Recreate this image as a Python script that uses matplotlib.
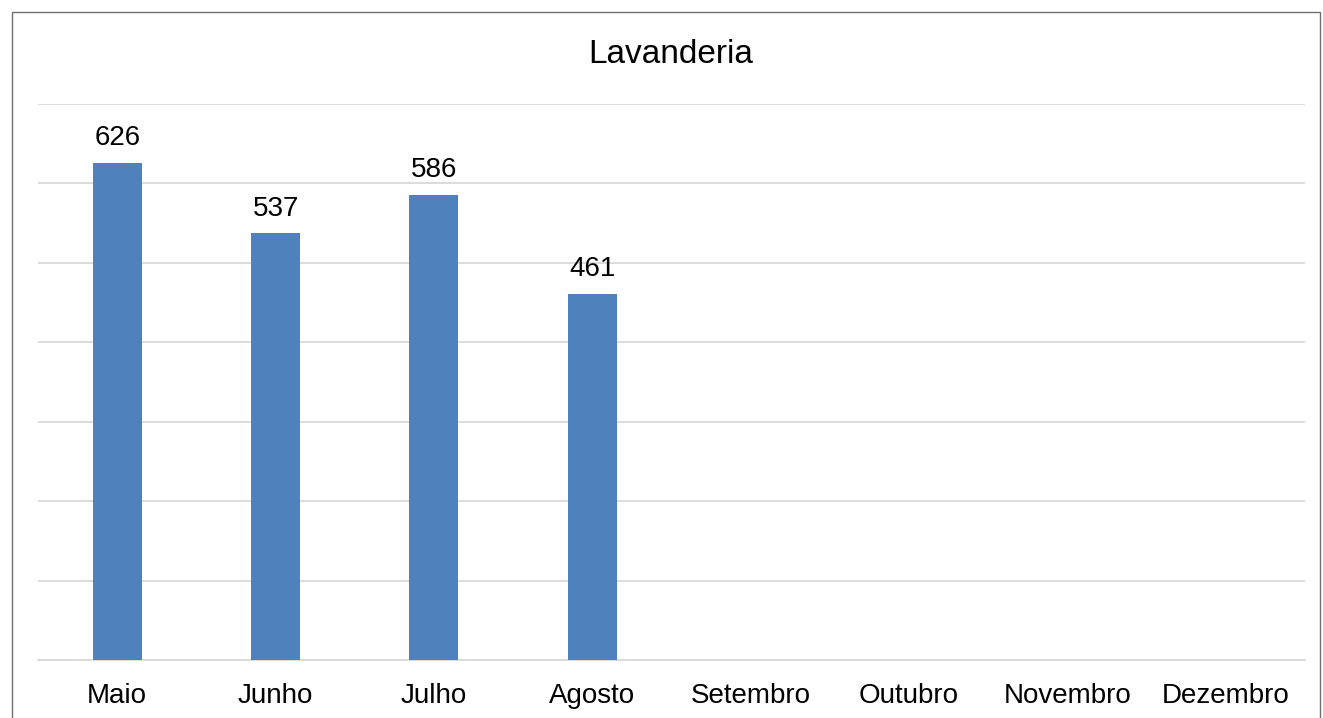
import matplotlib
matplotlib.use("Agg")
import matplotlib.pyplot as plt
from matplotlib.patches import Rectangle

categories = ["Maio", "Junho", "Julho", "Agosto", "Setembro", "Outubro", "Novembro", "Dezembro"]
values = [626, 537, 586, 461, None, None, None, None]
title = "Lavanderia"

plt.rcParams['font.family'] = ['Liberation Sans', 'DejaVu Sans']

W, H = 1323, 718
fig = plt.figure(figsize=(W / 100, H / 100), dpi=100)
ax = fig.add_axes([38 / W, 1 - 660 / H, (1305 - 38) / W, (660 - 104) / H])

xs = list(range(len(categories)))
bx = [x for x, v in zip(xs, values) if v is not None]
bv = [v for v in values if v is not None]
bars = ax.bar(bx, bv, width=0.31, color="#4F81BD", zorder=3)
for x, v in zip(bx, bv):
    ax.annotate(str(v), (x, v), xytext=(0, 8.5), textcoords="offset points",
                ha="center", va="bottom", fontsize=20, color="#000000")

ax.set_xlim(-0.5, len(categories) - 0.5)
ax.set_ylim(0, 700)
ax.set_yticks(range(0, 701, 100))
ax.yaxis.grid(True, color="#D9D9D9", linewidth=1.3, zorder=0)
ax.tick_params(axis="y", left=False, labelleft=False)
ax.set_xticks(xs)
ax.set_xticklabels(categories, fontsize=20)
ax.tick_params(axis="x", bottom=False, pad=13)
for s in ["top", "right", "left"]:
    ax.spines[s].set_visible(False)
ax.spines["bottom"].set_color("#D9D9D9")
ax.spines["bottom"].set_linewidth(1.3)

fig.text(671 / W, 1 - 54.5 / H, title, ha="center", va="center", fontsize=24, color="#000000")

fig.patches.append(Rectangle((12 / W, -0.05), (1320 - 12) / W, 1 - 12 / H + 0.05,
                             transform=fig.transFigure, fill=False,
                             edgecolor="#6F6F6F", linewidth=1))

fig.savefig("out.png", dpi=100)
